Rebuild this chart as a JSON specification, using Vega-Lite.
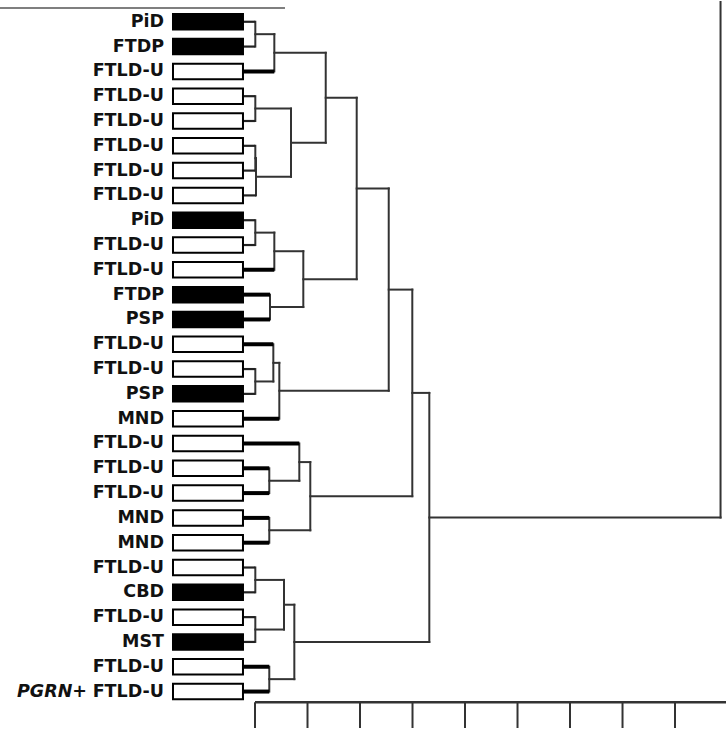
{
  "$schema": "https://vega.github.io/schema/vega-lite/v6.json",
  "width": 726,
  "height": 735,
  "padding": 0,
  "autosize": {"type": "fit", "contains": "padding"},
  "background": "white",
  "config": {"view": {"stroke": null}},
  "datasets": {
    "leaves": [
      {"row": 0, "label": "PiD", "class": "tau"},
      {"row": 1, "label": "FTDP", "class": "tau"},
      {"row": 2, "label": "FTLD-U", "class": "ubiquitin"},
      {"row": 3, "label": "FTLD-U", "class": "ubiquitin"},
      {"row": 4, "label": "FTLD-U", "class": "ubiquitin"},
      {"row": 5, "label": "FTLD-U", "class": "ubiquitin"},
      {"row": 6, "label": "FTLD-U", "class": "ubiquitin"},
      {"row": 7, "label": "FTLD-U", "class": "ubiquitin"},
      {"row": 8, "label": "PiD", "class": "tau"},
      {"row": 9, "label": "FTLD-U", "class": "ubiquitin"},
      {"row": 10, "label": "FTLD-U", "class": "ubiquitin"},
      {"row": 11, "label": "FTDP", "class": "tau"},
      {"row": 12, "label": "PSP", "class": "tau"},
      {"row": 13, "label": "FTLD-U", "class": "ubiquitin"},
      {"row": 14, "label": "FTLD-U", "class": "ubiquitin"},
      {"row": 15, "label": "PSP", "class": "tau"},
      {"row": 16, "label": "MND", "class": "ubiquitin"},
      {"row": 17, "label": "FTLD-U", "class": "ubiquitin"},
      {"row": 18, "label": "FTLD-U", "class": "ubiquitin"},
      {"row": 19, "label": "FTLD-U", "class": "ubiquitin"},
      {"row": 20, "label": "MND", "class": "ubiquitin"},
      {"row": 21, "label": "MND", "class": "ubiquitin"},
      {"row": 22, "label": "FTLD-U", "class": "ubiquitin"},
      {"row": 23, "label": "CBD", "class": "tau"},
      {"row": 24, "label": "FTLD-U", "class": "ubiquitin"},
      {"row": 25, "label": "MST", "class": "tau"},
      {"row": 26, "label": "FTLD-U", "class": "ubiquitin"},
      {"row": 27, "label": "FTLD-U", "class": "ubiquitin"}
    ],
    "prefix": [{"row": 27, "prefix": "PGRN+"}],
    "segs": [
      {"kind": "leaf", "x": -0.229, "x2": 0.006, "y": 0, "y2": 0},
      {"kind": "leaf", "x": -0.229, "x2": 0.006, "y": 1, "y2": 1},
      {"kind": "leaf", "x": -0.229, "x2": 0.368, "y": 2, "y2": 2},
      {"kind": "leaf", "x": -0.229, "x2": 0.006, "y": 3, "y2": 3},
      {"kind": "leaf", "x": -0.229, "x2": 0.006, "y": 4, "y2": 4},
      {"kind": "leaf", "x": -0.229, "x2": 0.006, "y": 5, "y2": 5},
      {"kind": "leaf", "x": -0.229, "x2": 0.006, "y": 6, "y2": 6},
      {"kind": "leaf", "x": -0.229, "x2": 0.019, "y": 7, "y2": 7},
      {"kind": "leaf", "x": -0.229, "x2": 0.006, "y": 8, "y2": 8},
      {"kind": "leaf", "x": -0.229, "x2": 0.006, "y": 9, "y2": 9},
      {"kind": "leaf", "x": -0.229, "x2": 0.368, "y": 10, "y2": 10},
      {"kind": "leaf", "x": -0.229, "x2": 0.286, "y": 11, "y2": 11},
      {"kind": "leaf", "x": -0.229, "x2": 0.286, "y": 12, "y2": 12},
      {"kind": "leaf", "x": -0.229, "x2": 0.349, "y": 13, "y2": 13},
      {"kind": "leaf", "x": -0.229, "x2": 0.006, "y": 14, "y2": 14},
      {"kind": "leaf", "x": -0.229, "x2": 0.006, "y": 15, "y2": 15},
      {"kind": "leaf", "x": -0.229, "x2": 0.463, "y": 16, "y2": 16},
      {"kind": "leaf", "x": -0.229, "x2": 0.844, "y": 17, "y2": 17},
      {"kind": "leaf", "x": -0.229, "x2": 0.272, "y": 18, "y2": 18},
      {"kind": "leaf", "x": -0.229, "x2": 0.272, "y": 19, "y2": 19},
      {"kind": "leaf", "x": -0.229, "x2": 0.272, "y": 20, "y2": 20},
      {"kind": "leaf", "x": -0.229, "x2": 0.272, "y": 21, "y2": 21},
      {"kind": "leaf", "x": -0.229, "x2": 0.006, "y": 22, "y2": 22},
      {"kind": "leaf", "x": -0.229, "x2": 0.006, "y": 23, "y2": 23},
      {"kind": "leaf", "x": -0.229, "x2": 0.006, "y": 24, "y2": 24},
      {"kind": "leaf", "x": -0.229, "x2": 0.006, "y": 25, "y2": 25},
      {"kind": "leaf", "x": -0.229, "x2": 0.272, "y": 26, "y2": 26},
      {"kind": "leaf", "x": -0.229, "x2": 0.272, "y": 27, "y2": 27},

      {"kind": "node", "x": 0.006, "x2": 0.368, "y": 0.5, "y2": 0.5},
      {"kind": "node", "x": 0.368, "x2": 1.347, "y": 1.25, "y2": 1.25},
      {"kind": "node", "x": 0.006, "x2": 0.686, "y": 3.5, "y2": 3.5},
      {"kind": "node", "x": 0.006, "x2": 0.019, "y": 5.5, "y2": 5.5},
      {"kind": "node", "x": 0.019, "x2": 0.686, "y": 6.25, "y2": 6.25},
      {"kind": "node", "x": 0.686, "x2": 1.347, "y": 4.875, "y2": 4.875},
      {"kind": "node", "x": 1.347, "x2": 1.937, "y": 3.0625, "y2": 3.0625},
      {"kind": "node", "x": 0.006, "x2": 0.368, "y": 8.5, "y2": 8.5},
      {"kind": "node", "x": 0.368, "x2": 0.92, "y": 9.25, "y2": 9.25},
      {"kind": "node", "x": 0.286, "x2": 0.92, "y": 11.5, "y2": 11.5},
      {"kind": "node", "x": 0.92, "x2": 1.937, "y": 10.375, "y2": 10.375},
      {"kind": "node", "x": 1.937, "x2": 2.547, "y": 6.719, "y2": 6.719},
      {"kind": "node", "x": 0.006, "x2": 0.349, "y": 14.5, "y2": 14.5},
      {"kind": "node", "x": 0.349, "x2": 0.463, "y": 13.75, "y2": 13.75},
      {"kind": "node", "x": 0.463, "x2": 2.547, "y": 14.875, "y2": 14.875},
      {"kind": "node", "x": 2.547, "x2": 2.996, "y": 10.797, "y2": 10.797},
      {"kind": "node", "x": 0.272, "x2": 0.844, "y": 18.5, "y2": 18.5},
      {"kind": "node", "x": 0.844, "x2": 1.053, "y": 17.75, "y2": 17.75},
      {"kind": "node", "x": 0.272, "x2": 1.053, "y": 20.5, "y2": 20.5},
      {"kind": "node", "x": 1.053, "x2": 2.996, "y": 19.125, "y2": 19.125},
      {"kind": "node", "x": 2.996, "x2": 3.32, "y": 14.961, "y2": 14.961},
      {"kind": "node", "x": 0.006, "x2": 0.552, "y": 22.5, "y2": 22.5},
      {"kind": "node", "x": 0.006, "x2": 0.552, "y": 24.5, "y2": 24.5},
      {"kind": "node", "x": 0.552, "x2": 0.749, "y": 23.5, "y2": 23.5},
      {"kind": "node", "x": 0.272, "x2": 0.749, "y": 26.5, "y2": 26.5},
      {"kind": "node", "x": 0.749, "x2": 3.32, "y": 25.0, "y2": 25.0},
      {"kind": "node", "x": 3.32, "x2": 8.867, "y": 19.98, "y2": 19.98},

      {"kind": "node", "x": 0.006, "x2": 0.006, "y": 0, "y2": 1},
      {"kind": "node", "x": 0.368, "x2": 0.368, "y": 0.5, "y2": 2},
      {"kind": "node", "x": 0.006, "x2": 0.006, "y": 3, "y2": 4},
      {"kind": "node", "x": 0.006, "x2": 0.006, "y": 5, "y2": 6},
      {"kind": "node", "x": 0.019, "x2": 0.019, "y": 5.5, "y2": 7},
      {"kind": "node", "x": 0.686, "x2": 0.686, "y": 3.5, "y2": 6.25},
      {"kind": "node", "x": 1.347, "x2": 1.347, "y": 1.25, "y2": 4.875},
      {"kind": "node", "x": 0.006, "x2": 0.006, "y": 8, "y2": 9},
      {"kind": "node", "x": 0.368, "x2": 0.368, "y": 8.5, "y2": 10},
      {"kind": "node", "x": 0.286, "x2": 0.286, "y": 11, "y2": 12},
      {"kind": "node", "x": 0.92, "x2": 0.92, "y": 9.25, "y2": 11.5},
      {"kind": "node", "x": 1.937, "x2": 1.937, "y": 3.0625, "y2": 10.375},
      {"kind": "node", "x": 0.006, "x2": 0.006, "y": 14, "y2": 15},
      {"kind": "node", "x": 0.349, "x2": 0.349, "y": 13, "y2": 14.5},
      {"kind": "node", "x": 0.463, "x2": 0.463, "y": 13.75, "y2": 16},
      {"kind": "node", "x": 2.547, "x2": 2.547, "y": 6.719, "y2": 14.875},
      {"kind": "node", "x": 0.272, "x2": 0.272, "y": 18, "y2": 19},
      {"kind": "node", "x": 0.844, "x2": 0.844, "y": 17, "y2": 18.5},
      {"kind": "node", "x": 0.272, "x2": 0.272, "y": 20, "y2": 21},
      {"kind": "node", "x": 1.053, "x2": 1.053, "y": 17.75, "y2": 20.5},
      {"kind": "node", "x": 2.996, "x2": 2.996, "y": 10.797, "y2": 19.125},
      {"kind": "node", "x": 0.006, "x2": 0.006, "y": 22, "y2": 23},
      {"kind": "node", "x": 0.006, "x2": 0.006, "y": 24, "y2": 25},
      {"kind": "node", "x": 0.552, "x2": 0.552, "y": 22.5, "y2": 24.5},
      {"kind": "node", "x": 0.272, "x2": 0.272, "y": 26, "y2": 27},
      {"kind": "node", "x": 0.749, "x2": 0.749, "y": 23.5, "y2": 26.5},
      {"kind": "node", "x": 3.32, "x2": 3.32, "y": 14.961, "y2": 25.0},
      {"kind": "node", "x": 8.867, "x2": 8.867, "y": -0.8, "y2": 19.98}
    ],
    "ticks": [{"t": 0}, {"t": 1}, {"t": 2}, {"t": 3}, {"t": 4}, {"t": 5}, {"t": 6}, {"t": 7}, {"t": 8}, {"t": 9}]
  },
  "layer": [
    {
      "data": {"name": "segs"},
      "transform": [{"filter": "datum.kind == 'node'"}],
      "mark": {"type": "rule", "color": "#333333", "strokeWidth": 2, "strokeCap": "square", "clip": true},
      "encoding": {
        "x": {"field": "x", "type": "quantitative", "scale": {"domain": [-4.857, 8.971], "nice": false, "zero": false}, "axis": null},
        "x2": {"field": "x2"},
        "y": {"field": "y", "type": "quantitative", "scale": {"domain": [-0.676, 28.55], "nice": false, "zero": false, "reverse": true}, "axis": null},
        "y2": {"field": "y2"}
      }
    },
    {
      "data": {"name": "segs"},
      "transform": [{"filter": "datum.kind == 'leaf' && datum.x2 < 0.1"}],
      "mark": {"type": "rule", "color": "#222222", "strokeWidth": 2.2, "clip": true},
      "encoding": {
        "x": {"field": "x", "type": "quantitative", "scale": {"domain": [-4.857, 8.971], "nice": false, "zero": false}, "axis": null},
        "x2": {"field": "x2"},
        "y": {"field": "y", "type": "quantitative", "scale": {"domain": [-0.676, 28.55], "nice": false, "zero": false, "reverse": true}, "axis": null},
        "y2": {"field": "y2"}
      }
    },
    {
      "data": {"name": "segs"},
      "transform": [{"filter": "datum.kind == 'leaf' && datum.x2 > 0.1"}],
      "mark": {"type": "rule", "color": "#000000", "strokeWidth": 4, "clip": true},
      "encoding": {
        "x": {"field": "x", "type": "quantitative", "scale": {"domain": [-4.857, 8.971], "nice": false, "zero": false}, "axis": null},
        "x2": {"field": "x2"},
        "y": {"field": "y", "type": "quantitative", "scale": {"domain": [-0.676, 28.55], "nice": false, "zero": false, "reverse": true}, "axis": null},
        "y2": {"field": "y2"}
      }
    },
    {
      "data": {"name": "leaves"},
      "mark": {"type": "bar", "height": 15.5, "stroke": "#000000", "strokeWidth": 2},
      "encoding": {
        "x": {"datum": -1.562, "type": "quantitative", "scale": {"domain": [-4.857, 8.971], "nice": false, "zero": false}, "axis": null},
        "x2": {"datum": -0.229},
        "y": {"field": "row", "type": "quantitative", "scale": {"domain": [-0.676, 28.55], "nice": false, "zero": false, "reverse": true}, "axis": null},
        "fill": {"field": "class", "type": "nominal", "scale": {"domain": ["tau", "ubiquitin"], "range": ["#000000", "#ffffff"]}, "legend": null}
      }
    },
    {
      "data": {"name": "leaves"},
      "mark": {"type": "text", "align": "right", "baseline": "middle", "font": "DejaVu Sans", "fontWeight": "bold", "fontSize": 17.5, "color": "#111111"},
      "encoding": {
        "x": {"datum": -1.733, "type": "quantitative", "scale": {"domain": [-4.857, 8.971], "nice": false, "zero": false}, "axis": null},
        "y": {"field": "row", "type": "quantitative", "scale": {"domain": [-0.676, 28.55], "nice": false, "zero": false, "reverse": true}, "axis": null},
        "text": {"field": "label"}
      }
    },
    {
      "data": {"name": "prefix"},
      "mark": {"type": "text", "align": "right", "baseline": "middle", "font": "DejaVu Sans", "fontWeight": "bold", "fontStyle": "italic", "fontSize": 17.5, "color": "#111111"},
      "encoding": {
        "x": {"datum": -3.2, "type": "quantitative", "scale": {"domain": [-4.857, 8.971], "nice": false, "zero": false}, "axis": null},
        "y": {"field": "row", "type": "quantitative", "scale": {"domain": [-0.676, 28.55], "nice": false, "zero": false, "reverse": true}, "axis": null},
        "text": {"field": "prefix"}
      }
    },
    {
      "data": {"name": "ticks"},
      "mark": {"type": "rule", "color": "#333333", "strokeWidth": 2, "clip": true},
      "encoding": {
        "x": {"field": "t", "type": "quantitative", "scale": {"domain": [-4.857, 8.971], "nice": false, "zero": false}, "axis": null},
        "y": {"datum": 27.435, "type": "quantitative", "scale": {"domain": [-0.676, 28.55], "nice": false, "zero": false, "reverse": true}, "axis": null},
        "y2": {"datum": 28.47}
      }
    },
    {
      "data": {"values": [{"from": 0, "to": 9.5}]},
      "mark": {"type": "rule", "color": "#333333", "strokeWidth": 2.5, "clip": true},
      "encoding": {
        "x": {"field": "from", "type": "quantitative", "scale": {"domain": [-4.857, 8.971], "nice": false, "zero": false}, "axis": null},
        "x2": {"field": "to"},
        "y": {"datum": 27.435, "type": "quantitative", "scale": {"domain": [-0.676, 28.55], "nice": false, "zero": false, "reverse": true}, "axis": null}
      }
    },
    {
      "data": {"values": [{"from": -4.9, "to": 0.571}]},
      "mark": {"type": "rule", "color": "#555555", "strokeWidth": 1.5, "clip": true},
      "encoding": {
        "x": {"field": "from", "type": "quantitative", "scale": {"domain": [-4.857, 8.971], "nice": false, "zero": false}, "axis": null},
        "x2": {"field": "to"},
        "y": {"datum": -0.557, "type": "quantitative", "scale": {"domain": [-0.676, 28.55], "nice": false, "zero": false, "reverse": true}, "axis": null}
      }
    }
  ]
}
